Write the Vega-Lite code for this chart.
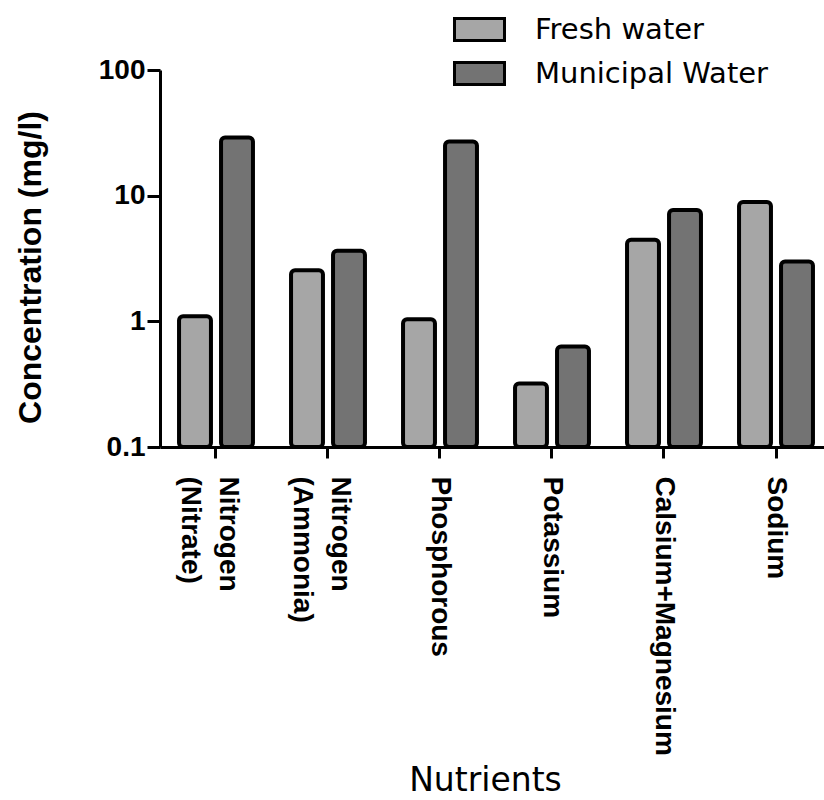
{
  "$schema": "https://vega.github.io/schema/vega-lite/v6.json",
  "width": 672,
  "height": 377,
  "autosize": {"type": "none"},
  "padding": {"left": 160, "top": 70, "right": 0, "bottom": 353},
  "background": "white",
  "config": {"view": {"stroke": null}, "font": "Liberation Sans"},
  "data": {
    "values": [
      {"nutrient": "Nitrogen (Nitrate)", "water": "Fresh water", "value": 1.1},
      {"nutrient": "Nitrogen (Nitrate)", "water": "Municipal Water", "value": 29},
      {"nutrient": "Nitrogen (Ammonia)", "water": "Fresh water", "value": 2.55},
      {"nutrient": "Nitrogen (Ammonia)", "water": "Municipal Water", "value": 3.65},
      {"nutrient": "Phosphorous", "water": "Fresh water", "value": 1.04},
      {"nutrient": "Phosphorous", "water": "Municipal Water", "value": 27},
      {"nutrient": "Potassium", "water": "Fresh water", "value": 0.32},
      {"nutrient": "Potassium", "water": "Municipal Water", "value": 0.63},
      {"nutrient": "Calsium+Magnesium", "water": "Fresh water", "value": 4.45},
      {"nutrient": "Calsium+Magnesium", "water": "Municipal Water", "value": 7.7},
      {"nutrient": "Sodium", "water": "Fresh water", "value": 8.9},
      {"nutrient": "Sodium", "water": "Municipal Water", "value": 3.0}
    ]
  },
  "mark": {"type": "bar", "stroke": "black", "strokeWidth": 4, "cornerRadius": 4},
  "encoding": {
    "x": {
      "field": "nutrient",
      "type": "nominal",
      "sort": ["Nitrogen (Nitrate)", "Nitrogen (Ammonia)", "Phosphorous", "Potassium", "Calsium+Magnesium", "Sodium"],
      "scale": {"paddingInner": 0.34, "paddingOuter": 0.17},
      "axis": {
        "title": "Nutrients",
        "titleFont": "DejaVu Sans",
        "titleFontSize": 33,
        "titleFontWeight": "normal",
        "titleColor": "black",
        "titleX": 325,
        "titleY": 333,
        "titleBaseline": "middle",
        "labelAngle": 90,
        "labelAlign": "left",
        "labelBaseline": "middle",
        "labelFontSize": 28,
        "labelFontWeight": "bold",
        "labelColor": "black",
        "labelPadding": 18,
        "labelLineHeight": 38,
        "labelLimit": 400,
        "labelOffset": {"condition": {"test": "indexof(datum.value, ' ') >= 0", "value": 12}, "value": 0},
        "labelExpr": "split(datum.label, ' ')",
        "domainWidth": 3,
        "domainColor": "black",
        "tickColor": "black",
        "tickWidth": 3,
        "tickSize": 11,
        "grid": false
      }
    },
    "xOffset": {
      "field": "water",
      "type": "nominal",
      "sort": ["Fresh water", "Municipal Water"],
      "scale": {"paddingInner": 0.24}
    },
    "y": {
      "field": "value",
      "type": "quantitative",
      "scale": {"type": "log", "domain": [0.1, 100]},
      "axis": {
        "title": "Concentration (mg/l)",
        "titleFontSize": 32,
        "titleFontWeight": "bold",
        "titleColor": "black",
        "titleX": -130,
        "titleY": 197,
        "titleAngle": -90,
        "titleAlign": "center",
        "titleBaseline": "middle",
        "values": [0.1, 1, 10, 100],
        "labelExpr": "datum.value >= 1 ? format(datum.value, 'd') : '0.1'",
        "labelFontSize": 28,
        "labelFontWeight": "bold",
        "labelColor": "black",
        "labelPadding": 2,
        "tickSize": 13,
        "tickWidth": 3,
        "tickColor": "black",
        "domainWidth": 3,
        "domainColor": "black",
        "grid": false
      }
    },
    "y2": {"datum": 0.1},
    "color": {
      "field": "water",
      "type": "nominal",
      "sort": ["Fresh water", "Municipal Water"],
      "scale": {"range": ["#a6a6a6", "#737373"]},
      "legend": {
        "title": null,
        "orient": "none",
        "legendX": 305,
        "legendY": -55,
        "padding": 0,
        "symbolType": "M-2,-0.88H2V0.88H-2Z",
        "symbolSize": 625,
        "symbolStrokeColor": "black",
        "symbolStrokeWidth": 3,
        "symbolOpacity": 1,
        "labelFont": "DejaVu Sans",
        "labelFontSize": 29,
        "labelColor": "black",
        "labelOffset": 41,
        "labelLimit": 400,
        "rowPadding": 9
      }
    }
  }
}
